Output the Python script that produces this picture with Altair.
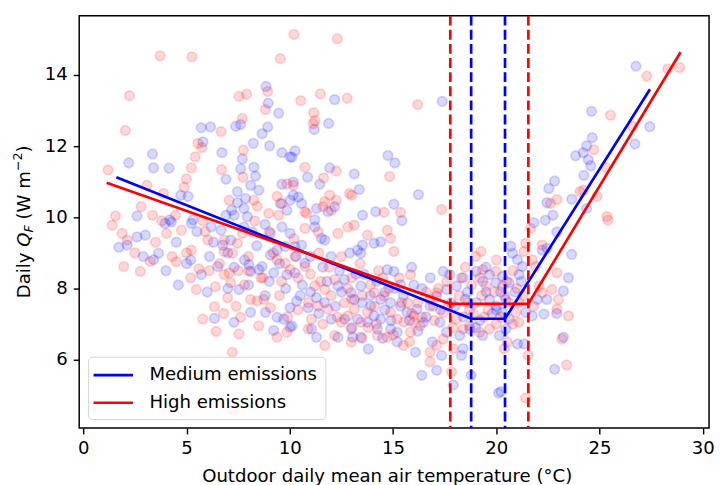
import altair as alt
import pandas as pd

# ---- scatter data ----
med_x = [8.85, 8.95, 9.46, 5.71, 6.16, 7.38, 7.62, 8.93, 8.66, 5.79, 8.23, 9.02, 2.20, 3.35, 3.40, 4.15, 6.71, 7.70, 7.62, 8.26,
         8.34, 6.91, 9.62, 10.01, 8.10, 8.50, 9.62, 10.17, 5.07, 4.72, 2.60, 4.19, 5.31, 7.46, 7.86, 7.46, 7.78, 7.18, 7.30, 6.91,
         7.94, 9.54, 10.01, 9.86,
         1.72, 2.12, 2.60, 3.64, 3.40, 3.96, 4.27, 5.23, 6.11, 6.51, 5.71, 6.75, 7.14, 7.54, 8.02, 8.50, 8.10, 8.66, 9.06, 9.38,
         9.78, 9.22, 9.86, 8.10, 8.82, 9.38, 9.70, 6.35, 7.30, 9.22, 10.01, 10.01, 6.19, 6.67, 7.78, 8.18, 9.06, 9.62, 10.01,
         12.17, 17.38, 11.88, 11.18, 10.25, 10.10, 14.75, 15.09, 11.93, 10.86, 11.45, 13.12, 13.36, 16.23, 10.17, 10.41, 10.57,
         11.29, 12.17, 11.85, 11.21, 13.52, 14.16, 15.04, 15.43,
         13.28, 13.52, 13.44, 14.08, 14.40, 11.53, 11.69, 11.21, 10.57, 10.25, 14.72, 15.04, 15.36, 11.29, 10.89, 10.33, 10.10,
         12.33, 13.05, 13.44, 11.05, 11.29, 14.08, 14.40, 14.88, 15.20, 16.08, 16.39, 17.11, 17.35, 17.91, 18.31, 18.39, 18.78,
         20.11, 17.43, 17.75, 18.39, 18.07, 17.59, 17.11, 19.03, 19.67, 19.98, 20.30, 19.34, 19.03, 19.67, 19.98, 18.23, 18.71,
         19.34, 20.14, 16.79, 16.15, 15.67, 15.36, 12.33, 12.65, 12.97, 13.44, 13.12, 13.92, 14.40, 14.88, 11.69, 12.01, 12.65,
         13.76, 14.24, 13.28, 10.25, 10.73, 16.47, 17.27, 17.59, 15.90, 16.40,
         26.76, 24.61, 27.43, 26.71, 24.64, 24.37, 24.21, 23.84, 24.45, 24.57, 24.24, 22.82, 22.54, 23.65, 22.45, 22.74, 21.82,
         24.37,
         20.70, 22.22, 22.45, 23.65, 23.49, 23.25, 22.45, 22.93, 22.30, 21.98, 21.74, 21.42, 23.25, 22.82, 21.02, 21.34, 20.22,
         22.37, 22.93, 21.10, 21.26, 21.02, 20.78, 20.62, 20.46, 20.30, 20.46, 20.62,
         7.00, 7.80, 8.40, 9.00, 9.50, 10.30, 7.30, 8.80, 6.30,
         10.60, 11.00, 11.60, 12.00, 12.40, 12.90, 13.60, 14.20, 14.60, 12.20, 11.40, 13.50, 14.90, 15.50, 16.00, 16.60,
         15.20, 13.80,
         18.00, 18.60, 19.20, 19.80, 20.20, 18.40, 19.50, 20.90, 21.20, 19.00,
         3.00, 4.50, 5.00, 5.50, 4.00, 2.90,
         12.50, 13.20, 13.90, 14.60, 15.10, 15.80, 16.20, 16.80, 17.30, 17.80, 18.50, 19.50, 20.00, 11.80, 11.00, 10.50,
         9.80, 8.80, 8.00, 7.00, 6.00, 5.20, 4.60, 13.00, 14.50, 16.90]
med_y = [13.68, 13.21, 12.93, 12.52, 12.54, 12.56, 12.61, 12.54, 12.35, 12.12, 12.08, 12.01, 11.53, 11.78, 11.39, 11.38, 11.82,
         11.64, 11.36, 11.41, 11.16, 11.07, 11.82, 11.70, 10.90, 10.76, 10.93, 10.62, 10.59, 10.62, 10.04, 9.93, 9.93, 10.72,
         10.53, 10.41, 10.25, 10.20, 10.06, 10.06, 10.02, 10.39, 10.48, 10.20,
         9.16, 9.22, 9.45, 8.99, 8.81, 9.83, 9.87, 9.83, 8.90, 8.62, 8.39, 9.22, 9.36, 7.97, 8.67, 8.53, 8.48, 8.62, 8.94, 9.08,
         9.18, 8.44, 8.39, 7.33, 7.33, 7.19, 7.14, 7.16, 7.05, 6.82, 6.91, 7.46, 9.73, 9.64, 9.73, 9.59, 9.55, 9.73, 9.55,
         13.31, 13.26, 12.64, 12.47, 11.87, 11.69, 11.74, 11.53, 11.39, 11.13, 10.93, 11.22, 10.78, 10.64, 10.99, 10.57, 10.39,
         10.25, 10.30, 10.16, 9.93, 10.06, 10.16, 10.37, 9.91,
         9.08, 9.22, 8.99, 9.27, 9.31, 9.41, 9.36, 9.73, 9.22, 9.18, 8.53, 8.48, 8.11, 7.74, 7.46, 7.65, 6.95,
         6.63, 6.63, 6.63, 6.86, 6.63, 7.23, 7.14, 6.86, 6.77, 6.21, 5.56, 5.70, 6.12, 5.29, 6.12, 6.31, 5.56,
         5.06, 8.48, 8.39, 8.30, 8.07, 7.97, 7.79, 8.48, 8.39, 8.16, 8.34, 8.20, 7.60, 7.69, 7.51, 6.68, 6.86,
         6.68, 6.68, 7.51, 7.42, 7.33, 7.51, 8.07, 8.25, 7.88, 8.07, 7.69, 7.51, 7.69, 7.60, 7.60, 7.14, 7.14,
         7.05, 6.86, 7.14, 8.44, 8.71, 7.05, 7.05, 6.77, 8.60, 8.00,
         14.25, 12.98, 12.55, 12.06, 12.24, 12.01, 11.82, 11.73, 11.62, 11.45, 11.18, 11.02, 10.81, 10.51, 10.41, 10.06, 9.85,
         10.25,
         9.19, 9.08, 9.13, 8.96, 8.30, 7.93, 7.69, 7.30, 7.28, 7.69, 7.23, 7.33, 6.63, 5.73, 6.44, 6.44, 5.10,
         9.92, 9.59, 8.39, 8.62, 8.81, 8.99, 8.16, 7.69, 7.33, 6.86, 7.14,
         9.00, 8.80, 9.20, 8.20, 8.70, 8.90, 8.60, 9.80, 9.30,
         8.10, 8.90, 8.60, 8.90, 8.50, 9.00, 8.40, 8.20, 7.90, 7.50, 7.30, 7.60, 7.10, 7.80, 8.10, 7.20,
         6.50, 6.30,
         7.50, 7.90, 7.10, 7.30, 7.90, 7.20, 8.60, 7.90, 8.20, 6.90,
         9.50, 9.30, 8.70, 9.60, 8.50, 8.90,
         7.90, 8.40, 7.80, 7.40, 8.00, 7.10, 6.80, 8.30, 7.40, 7.60, 7.70, 7.90, 7.40, 8.20, 7.90, 7.80,
         8.00, 7.80, 8.10, 8.00, 7.90, 8.80, 8.10, 6.90, 6.60, 6.50]

high_x = [3.72, 5.26, 9.54, 10.20, 2.23, 2.04, 7.54, 7.91, 8.93, 8.82, 7.70, 6.67, 5.55, 5.74, 5.42, 5.23, 4.99, 4.88, 6.70,
          7.73, 1.20, 3.08, 3.88, 1.56, 3.35, 4.46, 7.75, 9.38, 9.86, 10.17, 8.42, 8.98, 9.46, 7.06, 8.26, 9.62,
          1.40, 1.88, 2.12, 1.96, 2.76, 3.24, 4.75, 4.03, 5.23, 6.03, 5.47, 6.35, 5.79, 6.43, 6.99, 7.14, 6.82, 7.06, 7.62,
          7.54, 8.50, 8.10, 8.42, 8.74, 9.06, 9.38, 9.86, 7.22, 7.22, 6.82, 7.22, 6.82, 7.46, 7.70, 9.78, 10.01, 9.38,
          4.50, 5.60, 6.40,
          12.30, 11.48, 10.53, 12.78, 16.19, 11.16, 11.21, 11.13, 10.73, 11.64, 12.25, 14.83, 12.89, 13.00, 11.93, 12.25,
          11.69, 11.61, 12.01, 10.73, 10.81, 14.56, 15.36, 17.35,
          10.73, 11.37, 12.33, 12.81, 13.12, 13.76, 14.72, 14.88, 15.04, 19.26, 15.84, 11.05, 11.69, 12.97, 13.50, 14.24,
          14.72, 16.79, 16.79, 17.43, 17.11, 17.91, 18.07, 18.39, 18.71, 19.19, 19.67, 19.34, 19.98, 19.50, 20.30, 17.11,
          16.95, 17.43, 16.79, 16.00, 16.31, 16.00, 15.52, 15.84, 10.25, 10.73, 11.21, 11.69, 12.17, 12.65, 13.12, 13.44,
          13.76, 14.56, 14.88, 15.20, 14.08, 11.85, 12.49, 12.97, 11.37, 10.89, 12.17, 12.81,
          18.50, 19.00, 20.00, 20.80, 18.20, 19.60, 20.60, 21.00, 18.90, 20.20, 17.83,
          27.29, 28.30, 28.88, 25.53, 26.60, 24.72, 25.28, 24.05, 24.21, 22.93, 22.62, 24.88, 25.36,
          21.66, 21.42, 21.34, 21.74, 22.22, 22.93, 22.69, 23.01, 22.93, 23.49, 23.17, 23.41, 21.54, 21.42, 25.41, 21.90,
          22.06, 22.22, 21.82, 21.10, 20.94, 20.38, 20.54,
          7.50, 8.00, 8.60, 9.20, 9.60, 10.20, 8.30, 9.00, 7.80, 6.60, 5.90,
          10.40, 11.00, 11.40, 11.90, 12.50, 13.00, 13.40, 13.90, 14.30, 14.80, 15.30, 15.70, 16.20, 16.60, 17.00, 14.20,
          13.00, 12.00, 11.60, 15.00, 15.80,
          17.60, 18.30, 18.80, 19.30, 19.90, 20.50, 21.30, 18.60, 19.40, 20.00, 20.80, 17.90,
          2.50, 3.50, 4.30, 5.20, 3.80, 5.80, 2.80,
          12.80, 13.50, 14.10, 14.50, 15.40, 15.90, 16.40, 17.20, 17.70, 18.70, 19.20, 20.40, 21.10, 11.50, 10.90, 10.40,
          9.50, 8.70, 8.00, 7.40, 6.80, 6.10, 5.00, 13.80, 15.50, 12.30, 9.90]
high_y = [14.54, 14.51, 14.46, 15.14, 13.42, 12.44, 13.40, 13.46, 13.54, 13.03, 12.78, 12.41, 12.08, 11.96, 11.70, 11.39,
          11.08, 10.85, 11.34, 11.13, 11.33, 10.90, 10.67, 10.04, 10.06, 10.06, 11.89, 10.59, 10.94, 10.90, 10.31, 10.11,
          10.06, 10.48, 10.48, 10.39,
          9.78, 9.55, 9.36, 8.62, 8.48, 8.76, 9.64, 9.55, 9.08, 9.36, 7.97, 7.49, 7.14, 6.79, 7.74, 8.16, 8.39, 8.44, 7.19,
          6.72, 6.95, 7.69, 7.65, 7.69, 7.46, 6.63, 6.77, 6.21, 4.59, 9.04, 8.99, 9.36, 9.27, 9.55, 8.71, 8.53, 8.81,
          8.75, 8.55, 8.05,
          15.02, 13.47, 13.28, 13.35, 13.17, 12.94, 12.72, 12.63, 11.41, 11.11, 11.30, 11.15, 10.67, 10.62, 10.62, 10.48,
          10.44, 10.30, 10.20, 10.16, 10.11, 10.14, 10.14, 10.22,
          9.69, 9.59, 9.55, 9.73, 9.78, 9.50, 9.64, 9.41, 9.04, 9.04, 8.39, 7.14, 6.40, 6.49, 6.60, 6.68,
          6.63, 6.21, 5.94, 6.58, 6.40, 6.31, 7.14, 6.86, 6.95, 6.77, 6.86, 8.53, 8.48, 8.07, 8.07, 7.88,
          7.51, 7.33, 7.69, 7.23, 6.95, 7.05, 7.05, 6.77, 8.90, 8.62, 8.07, 7.97, 8.25, 7.60, 7.42, 7.05,
          7.33, 7.79, 7.33, 7.14, 7.88, 7.42, 7.05, 6.86, 7.51, 6.86, 6.68, 7.23,
          8.60, 8.90, 8.80, 8.50, 7.80, 7.40, 7.60, 8.00, 7.30, 7.20, 5.66,
          13.97, 14.17, 14.21, 12.87, 12.56, 11.90, 11.41, 10.72, 10.76, 10.50, 10.39, 10.59, 10.02,
          9.69, 9.27, 9.04, 8.81, 9.22, 8.44, 7.97, 7.69, 7.42, 7.23, 6.58, 5.85, 6.12, 4.92, 9.92, 8.62,
          8.07, 7.88, 7.51, 7.05, 7.33, 6.31, 6.49,
          8.50, 8.90, 8.30, 9.00, 8.20, 9.40, 9.90, 9.60, 8.10, 8.70, 9.60,
          8.30, 8.40, 9.00, 8.60, 8.90, 8.30, 8.70, 8.10, 8.50, 8.00, 8.30, 7.60, 7.60, 7.90, 7.10, 7.00,
          7.70, 7.80, 7.00, 6.70, 6.50,
          8.20, 8.30, 8.10, 7.80, 7.90, 8.20, 7.80, 7.60, 7.20, 7.00, 7.00, 6.90,
          9.00, 9.30, 8.90, 8.30, 9.90, 9.90, 10.30,
          8.00, 7.80, 7.50, 8.30, 7.60, 7.30, 7.20, 8.00, 7.50, 7.40, 8.30, 7.80, 7.60, 8.20, 7.60, 7.40,
          7.80, 8.30, 8.50, 7.50, 7.30, 8.50, 9.00, 6.90, 6.40, 7.20, 7.20]

# ---- fitted piecewise lines and break points ----
series_names = ["Medium emissions", "High emissions"]
series_colors = ["#0000ff", "#ff0000"]
med_fit_x = [1.60, 18.78, 20.42, 27.44]
med_fit_y = [11.13, 7.15, 7.15, 13.60]
high_fit_x = [1.13, 17.77, 21.55, 28.92]
high_fit_y = [10.97, 7.57, 7.57, 14.64]
med_breaks = [18.78, 20.42]
high_breaks = [17.77, 21.55]

x_ticks = [0, 5, 10, 15, 20, 25, 30]
y_ticks = [6, 8, 10, 12, 14]
x_title = "Outdoor daily mean air temperature (°C)"

FONT = "DejaVu Sans"
FS = 18.3
W, H = 637, 417

med_df = pd.DataFrame({"x": med_x, "y": med_y})
high_df = pd.DataFrame({"x": high_x, "y": high_y})
fit_df = pd.concat([
    pd.DataFrame({"x": med_fit_x, "y": med_fit_y, "series": series_names[0]}),
    pd.DataFrame({"x": high_fit_x, "y": high_fit_y, "series": series_names[1]}),
])
med_b_df = pd.DataFrame({"x": med_breaks})
high_b_df = pd.DataFrame({"x": high_breaks})

xscale = alt.Scale(domain=[-0.2, 30.3], nice=False, zero=False)
yscale = alt.Scale(domain=[4.08, 15.67], nice=False, zero=False)
xaxis = alt.Axis(values=x_ticks, format="d", title=x_title, grid=False, domain=False,
                 labelPadding=6, titlePadding=11, titleX=311, labelFlush=False, labelOverlap=False)
yaxis = alt.Axis(values=y_ticks, format="d", title=None, grid=False, domain=False,
                 labelPadding=6, labelFlush=False, labelOverlap=False)
X = alt.X("x:Q", scale=xscale, axis=xaxis)
Y = alt.Y("y:Q", scale=yscale, axis=yaxis)


def scatter(df, color):
    return alt.Chart(df).mark_circle(
        size=95, color=color, fillOpacity=0.15, stroke=color, strokeOpacity=0.15, strokeWidth=1.8
    ).encode(x=X, y=Y)


lines = alt.Chart(fit_df).mark_line(strokeWidth=2.7).encode(
    x=X, y=Y,
    color=alt.Color("series:N", scale=alt.Scale(domain=series_names, range=series_colors),
                    legend=alt.Legend(title=None, orient="bottom-left", offset=9,
                                      symbolType="M-2.22,0H2.22", symbolSize=324,
                                      symbolStrokeWidth=2.7, symbolOffset=7,
                                      labelFontSize=FS, labelFont=FONT, labelColor="black",
                                      labelOffset=26, padding=8, rowPadding=9,
                                      strokeColor="#d6d6d6", fillColor="rgba(255,255,255,0.8)",
                                      cornerRadius=4, labelLimit=400)),
)


def rules(df, color):
    return alt.Chart(df).mark_rule(color=color, strokeWidth=2.7, strokeDash=[10, 4.3]).encode(x=X)


# y-axis title "Daily Q_F (W m^-2)" built from text pieces (rotated)
em = FS
sub = 0.7 * FS
space = 0.318 * em
# text, size, style, baseline shift, gap before, advance
pieces = [
    ("Daily", FS, "normal", 0.0, 0.0, 2.530 * em),
    ("Q", FS, "italic", 0.0, space, 0.787 * em),
    ("F", sub, "italic", 3.6, 0.0, 0.574 * sub),
    ("(W m", FS, "normal", 0.0, space, 2.671 * em),
    ("\u22122", sub, "normal", -8.0, 0.0, 1.474 * sub),
    (")", FS, "normal", 0.0, 0.0, 0.390 * em),
]
total = sum(p[4] + p[5] for p in pieces)
start = H / 2 + total / 2
base_x = -50
title_layers = []
pos = 0.0
for txt, fs, style, shift, gap, wdt in pieces:
    pos += gap
    title_layers.append(
        alt.Chart(pd.DataFrame({"t": [txt]})).mark_text(
            angle=270, align="left", baseline="alphabetic", font=FONT, fontSize=fs,
            fontStyle=style, color="black"
        ).encode(text="t:N", x=alt.value(base_x + shift), y=alt.value(start - pos))
    )
    pos += wdt

chart = alt.layer(
    scatter(med_df, series_colors[0]),
    scatter(high_df, series_colors[1]),
    lines,
    rules(high_b_df, series_colors[1]),
    rules(med_b_df, series_colors[0]),
    *title_layers,
).properties(
    width=W, height=H,
    padding={"left": 72, "top": 5, "right": 5, "bottom": 60},
    autosize=alt.AutoSizeParams(type="none"),
).configure_view(stroke="black", strokeWidth=1.5).configure_axis(
    labelFont=FONT, labelFontSize=FS, labelColor="black", titleFont=FONT, titleFontSize=FS,
    titleFontWeight="normal", titleColor="black", tickColor="black", tickWidth=1.45, tickSize=6
)

chart.save("out.html", embed_options={"renderer": "svg", "actions": False})
